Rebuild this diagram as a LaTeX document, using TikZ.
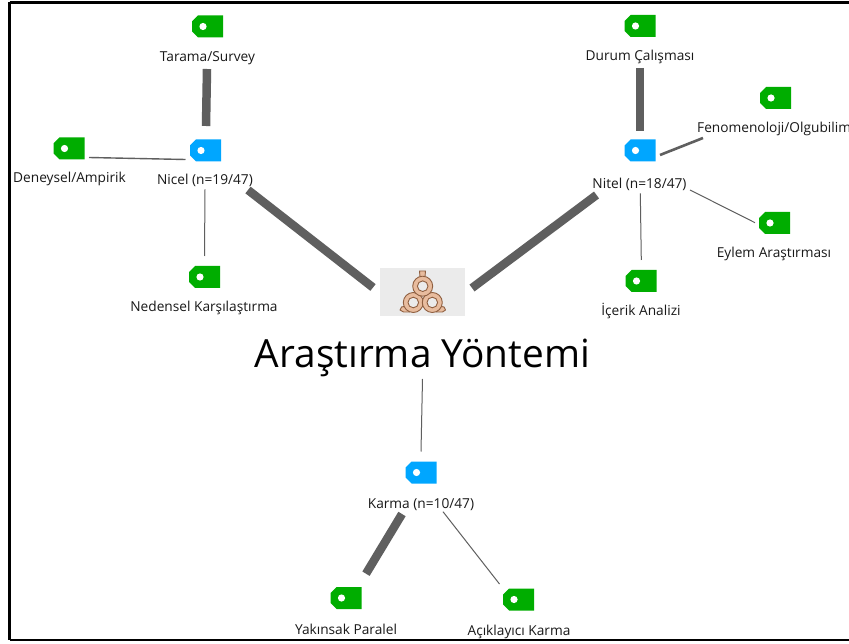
\documentclass[tikz,border=0pt]{standalone}
\usepackage{fontspec}
\setmainfont{Open Sans}
\usetikzlibrary{calc}
\definecolor{taggreen}{HTML}{00AD00}
\definecolor{tagblue}{HTML}{00A6FF}
\definecolor{linegray}{HTML}{5F5F5F}
\definecolor{iconfill}{HTML}{E8BC9E}
\definecolor{iconline}{HTML}{8F5F40}
\definecolor{iconbg}{HTML}{EBEBEB}
\tikzset{
  tagshape/.style={minimum width=31pt,minimum height=22pt,inner sep=0pt,outer sep=0pt,
    path picture={
      \fill[#1] ($(path picture bounding box.north west)+(6,0)$) -- (path picture bounding box.north east)
        -- (path picture bounding box.south east) -- ($(path picture bounding box.south west)+(6,0)$)
        -- ($(path picture bounding box.south west)+(0,-6)$) -- ($(path picture bounding box.north west)+(0,6)$) -- cycle;
      \fill[white] ($(path picture bounding box.center)+(-4.5,0)$) circle (3.6);
    }},
  gtag/.style={tagshape=taggreen},
  btag/.style={tagshape=tagblue},
  lab/.style={font=\fontsize{13.7}{16}\selectfont,inner sep=0pt,anchor=base,text=black!90},
  heavy/.style={draw=linegray,line width=8.5pt},
  medium/.style={draw=linegray,line width=2.6pt},
  light/.style={draw=linegray,line width=1pt},
  ring/.style={draw=iconline,fill=iconfill,line width=.9pt,line join=round},
  ringhole/.style={draw=iconline,fill=iconbg,line width=.9pt}
}
\begin{document}
\begin{tikzpicture}[x=1pt,y=-1pt]
\useasboundingbox (0,0) rectangle (849,644);
\fill[white] (0,0) rectangle (849,644);
\draw[black,line width=2.6pt] (9.5,2.5) -- (849,2.5);
\draw[black,line width=2.6pt] (9.5,2.5) -- (9.5,640);
\draw[black,line width=2.6pt] (9.5,640) -- (849,640);
% centre
\node[fill=iconbg,minimum width=85pt,minimum height=48pt,inner sep=0pt] (center) at (422.5,292) {};
\node[inner sep=0pt,anchor=base,font=\fontsize{38.8}{46}\selectfont] (title) at (422.5,367) {Araştırma Yöntemi};
\begin{scope}[shift={(center.center)}]
  % stem and tails
  \draw[ring] (-3,-21) -- (3,-21) -- (2.5,-15) -- (-2.5,-15) -- cycle;
  \draw[ring] (-22.5,18) -- (-21,15) -- (-16,14) -- (-13,20) -- (-19,20) -- cycle;
  \draw[ring] (23,18) -- (21.5,15) -- (16,14) -- (14,20) -- (20,20) -- cycle;
  % rings
  \draw[ring] (-9.2,10.5) circle (10);
  \draw[ringhole] (-9.2,10.5) circle (5.3);
  \draw[ring] (9.8,10.5) circle (10);
  \draw[ringhole] (9.8,10.5) circle (5.3);
  \draw[ring] (0.2,-5.8) circle (10);
  \draw[ringhole] (0.2,-5.8) circle (5.3);
\end{scope}
% tags
\node[btag] (nicel) at (205.5,150.5) {};
\node[btag] (nitel) at (640,150.5) {};
\node[btag] (karma) at (421,472.5) {};
\node[gtag] (tarama) at (207.5,26.5) {};
\node[gtag] (deneysel) at (69,148.5) {};
\node[gtag] (nedensel) at (204.5,277) {};
\node[gtag] (durum) at (640,26) {};
\node[gtag] (feno) at (775.5,98) {};
\node[gtag] (eylem) at (774.5,223) {};
\node[gtag] (icerik) at (641,281) {};
\node[gtag] (yakinsak) at (346,598) {};
\node[gtag] (aciklayici) at (518.5,599.5) {};
% labels
\node[lab] (nicelL) at (205,185) {Nicel (n=19/47)};
\node[lab] (nitelL) at (639.5,189) {Nitel (n=18/47)};
\node[lab] (karmaL) at (421,508) {Karma (n=10/47)};
\node[lab] (taramaL) at (207.5,62) {Tarama/Survey};
\node[lab] (deneyselL) at (69.5,183) {Deneysel/Ampirik};
\node[lab] (nedenselL) at (204,312) {Nedensel Karşılaştırma};
\node[lab] (durumL) at (640,61) {Durum Çalışması};
\node[lab,anchor=base west] (fenoL) at (697,133) {Fenomenoloji/Olgubilim};
\node[lab] (eylemL) at (774,258) {Eylem Araştırması};
\node[lab] (icerikL) at (641,316) {İçerik Analizi};
\node[lab] (yakinsakL) at (346,634) {Yakınsak Paralel};
\node[lab] (aciklayiciL) at (519,635) {Açıklayıcı Karma};
% connectors
\draw[heavy] ($(taramaL.base)+(-.5,7)$) -- ($(nicel)+(.5,-24.5)$);
\draw[light,line width=1.4pt] ($(deneysel)+(20,9)$) -- ($(nicel)+(-20,9)$);
\draw[light] ($(nicelL.base)+(0,4.3)$) -- ($(nedensel)+(0,-21)$);
\draw[heavy] ($(nicelL.base)+(43,5)$) -- ($(center)+(-49.5,-4.5)$);
\draw[heavy] ($(center)+(49.5,-4)$) -- ($(nitelL.base)+(-43,6)$);
\draw[heavy] ($(durumL.base)+(0,7)$) -- ($(nitel)+(0,-19.5)$);
\draw[medium] ($(nitel)+(20,4.5)$) -- ($(fenoL.base west)+(6,5)$);
\draw[light] ($(nitelL.base)+(.8,4.3)$) -- ($(icerik)+(.3,-21)$);
\draw[light] ($(nitelL.base)+(50.5,1)$) -- ($(eylem)+(-19.5,-.3)$);
\draw[light] ($(title.base)+(0,12)$) -- ($(karma)+(0,-21)$);
\draw[heavy] ($(karmaL.base)+(-19,6)$) -- ($(yakinsak)+(20,-24.3)$);
\draw[light] ($(karmaL.base)+(22,3.7)$) -- ($(aciklayici)+(-19,-15.5)$);
\end{tikzpicture}
\end{document}
